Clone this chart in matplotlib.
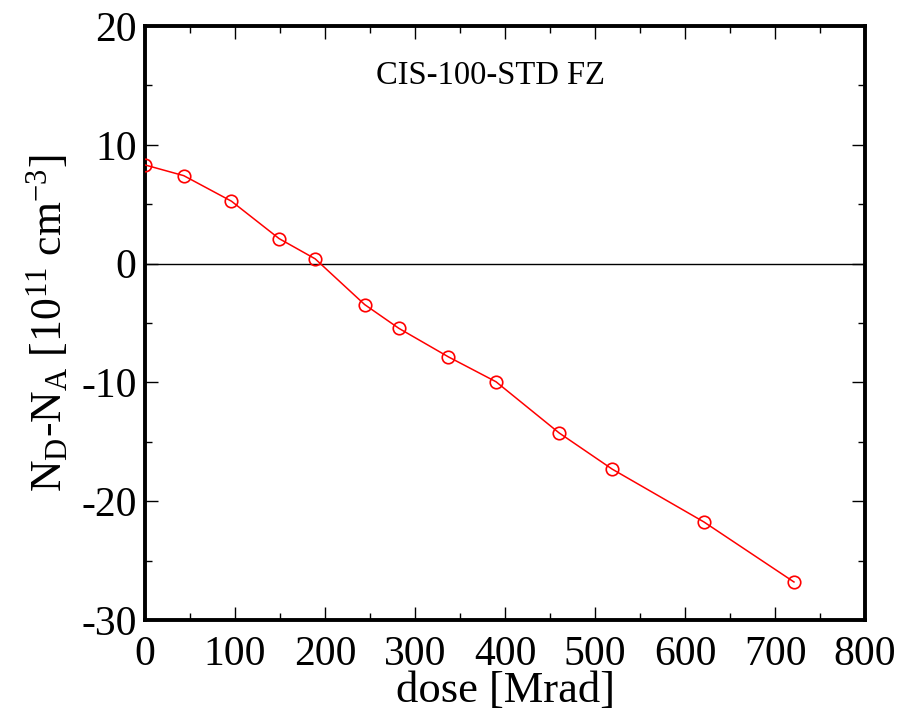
import numpy as np
import matplotlib
matplotlib.use('Agg')
import matplotlib.pyplot as plt
from matplotlib.ticker import MultipleLocator

# dose [Mrad] and effective doping N_D-N_A [1e11 cm^-3]
dose = [0, 43, 96, 149, 189, 244, 282, 337, 390, 460, 519, 621, 721]
neff = [8.3, 7.4, 5.25, 2.1, 0.4, -3.45, -5.45, -7.85, -9.95, -14.25, -17.3, -21.75, -26.8]

plt.rcParams['font.family'] = 'Liberation Serif'
plt.rcParams['mathtext.fontset'] = 'custom'
plt.rcParams['mathtext.rm'] = 'Liberation Serif'
plt.rcParams['mathtext.it'] = 'Liberation Serif:italic'
plt.rcParams['axes.unicode_minus'] = False

fig = plt.figure(figsize=(8.97, 7.19), dpi=100)
ax = fig.add_axes([0.1617, 0.1377, 0.8027, 0.8262])

ax.axhline(0, color='black', lw=1.0, zorder=1)
ax.plot(dose, neff, color='red', lw=1.1, marker='o', ms=9, mfc='none',
        mec='red', mew=1.2, zorder=3)

ax.set_xlim(0, 800)
ax.set_ylim(-30, 20)
ax.xaxis.set_major_locator(MultipleLocator(100))
ax.xaxis.set_minor_locator(MultipleLocator(50))
ax.yaxis.set_major_locator(MultipleLocator(10))
ax.yaxis.set_minor_locator(MultipleLocator(5))

for s in ax.spines.values():
    s.set_linewidth(2.8)
ax.tick_params(which='both', direction='in', top=True, right=True, width=1.0)
ax.tick_params(which='major', length=9.5, labelsize=30)
ax.tick_params(which='minor', length=5)
ax.tick_params(axis='x', which='major', pad=11)
ax.tick_params(axis='y', which='major', pad=6)

ax.set_xlabel('dose [Mrad]', fontsize=32, labelpad=-2)
ax.set_ylabel(r'N$_\mathrm{D}$-N$_\mathrm{A}$ [10$^{11}$ cm$^{-3}$]', fontsize=31.5, labelpad=8)

ax.text(384, 15.8, 'CIS-100-STD FZ', fontsize=23.5, ha='center', va='center')

fig.savefig('out.png', dpi=100)
